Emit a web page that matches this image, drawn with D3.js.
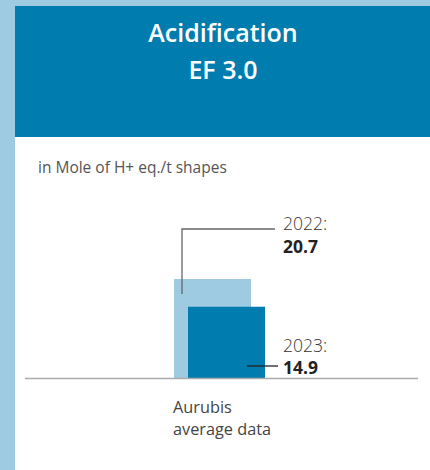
<!DOCTYPE html>
<html><head><meta charset="utf-8">
<script src="https://cdn.jsdelivr.net/npm/d3@7"></script>
<style>
html,body{margin:0;padding:0;background:#9ecbe2;}
svg{display:block;font-family:"Open Sans","Noto Sans",sans-serif;}
</style></head>
<body>
<svg id="c" width="430" height="470"></svg>
<script>
const titleLines = ["Acidification", "EF 3.0"];
const unitLabel = "in Mole of H+ eq./t shapes";
const categoryLines = ["Aurubis", "average data"];
const years = ["2022", "2023"];
const values = [20.7, 14.9];
const colors = ["#9ecbe2", "#007caf"];

const svg = d3.select("#c");
svg.append("rect").attr("x",0).attr("y",0).attr("width",430).attr("height",470).attr("fill","#9ecbe2");
svg.append("rect").attr("x",15).attr("y",6).attr("width",415).attr("height",131).attr("fill","#007caf");
svg.append("rect").attr("x",15).attr("y",137).attr("width",415).attr("height",333).attr("fill","#ffffff");

const title = svg.append("text").attr("x",223).attr("y",42)
  .attr("text-anchor","middle").attr("fill","#fff")
  .attr("font-size",25).attr("font-weight",600);
title.selectAll("tspan").data(titleLines).join("tspan")
  .attr("x",223).attr("dy",(d,i)=>i?37:0).text(d=>d);

svg.append("text").attr("x",38).attr("y",173).attr("font-size",15.5)
  .attr("fill","#555").text(unitLabel);

const y = d3.scaleLinear().domain([0, d3.max(values)]).range([378, 279]);
const bw = 77;

svg.selectAll("rect.bar").data(values).join("rect")
  .attr("class","bar")
  .attr("x",(d,i)=> i===0 ? 174 : 188)
  .attr("y",d=>y(d)).attr("width",bw).attr("height",d=>y(0)-y(d))
  .attr("fill",(d,i)=>colors[i]);

// baseline
svg.append("line").attr("x1",25).attr("x2",418).attr("y1",y(0)+0.5).attr("y2",y(0)+0.5)
  .attr("stroke","#aaa").attr("stroke-width",1.5);

// leader lines
svg.append("path").attr("d",`M182,${y(values[0])+15}V229H275`)
  .attr("fill","none").attr("stroke","#666").attr("stroke-width",1.3);
svg.append("line").attr("x1",247).attr("x2",278).attr("y1",366).attr("y2",366)
  .attr("stroke","#222").attr("stroke-width",1.3);

// labels
const lab = [{yr:230, val:253}, {yr:352, val:374}];
years.forEach((yr,i)=>{
  svg.append("text").attr("x",283).attr("y",lab[i].yr).attr("font-size",17.5)
    .attr("font-weight",300).attr("fill","#333").text(yr+":");
  svg.append("text").attr("x",283).attr("y",lab[i].val).attr("font-size",17.5)
    .attr("font-weight",700).attr("fill","#222").text(values[i].toFixed(1));
});

svg.selectAll("text.cat").data(categoryLines).join("text")
  .attr("class","cat").attr("x",173).attr("y",(d,i)=>412.5+i*22.5)
  .attr("font-size",16.3).attr("fill","#444").text(d=>d);
</script>
</body></html>
